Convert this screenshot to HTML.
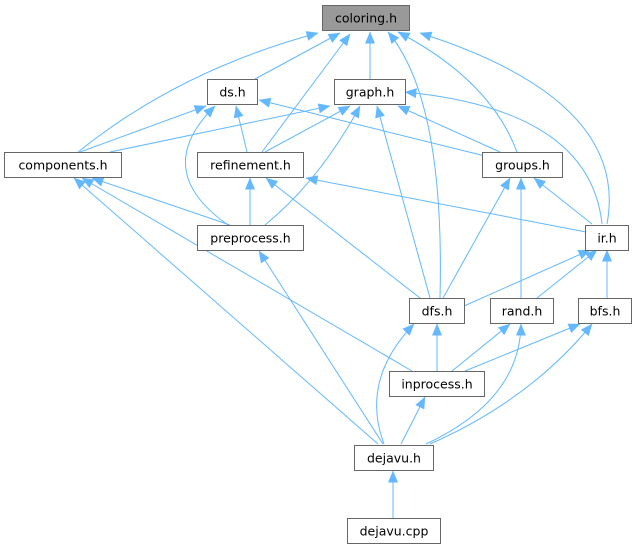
<!DOCTYPE html>
<html><head><meta charset="utf-8"><style>
html,body{margin:0;padding:0;background:#fff;width:633px;height:549px;overflow:hidden}
text{font-family:"DejaVu Sans","Liberation Sans",sans-serif;font-size:12.5px;fill:#000}
</style></head><body>
<svg width="633" height="549" viewBox="0 0 633 549" xmlns="http://www.w3.org/2000/svg">
<defs>
<marker id="a" markerWidth="12" markerHeight="10" refX="11.5" refY="5" orient="auto" markerUnits="userSpaceOnUse">
<path d="M0,0 L12,5 L0,10 z" fill="#63b8ff"/>
</marker>
</defs>
<g fill="none" stroke="#63b8ff" stroke-width="1" marker-end="url(#a)">
<path d="M78,152 Q180,70 318,33"/>
<path d="M255,79 L340,33"/>
<path d="M262,152 L350,34"/>
<path d="M370,79 L370,32"/>
<path d="M440,298 Q445,100 388,32"/>
<path d="M517,152 Q490,80 398,32"/>
<path d="M607,224 Q630,100 420,33"/>
<path d="M80,152 L206,106"/>
<path d="M228,225 Q150,170 215,106"/>
<path d="M247,152 L236,106"/>
<path d="M485,156 L259,100"/>
<path d="M110,152 L330,106"/>
<path d="M265,152 L350,106"/>
<path d="M265,225 Q320,180 360,106"/>
<path d="M430,298 L377,106"/>
<path d="M500,152 L398,106"/>
<path d="M602,224 Q590,110 405,92"/>
<path d="M230,225 L92,178"/>
<path d="M412,371 L82,178"/>
<path d="M378,444 L74,178"/>
<path d="M250,225 L250,178"/>
<path d="M420,298 L266,178"/>
<path d="M586,232 L306,178"/>
<path d="M443,298 L510,178"/>
<path d="M521,298 L521,178"/>
<path d="M592,224 L534,178"/>
<path d="M383,444 L259,251"/>
<path d="M464,306 L590,250"/>
<path d="M537,298 L597,250"/>
<path d="M607,298 L607,250"/>
<path d="M437,371 L437,324"/>
<path d="M384,444 Q360,380 414,324"/>
<path d="M452,371 L510,324"/>
<path d="M426,444 Q520,400 521,324"/>
<path d="M465,371 L580,324"/>
<path d="M430,444 Q530,400 592,324"/>
<path d="M401,444 L425,397"/>
<path d="M393,518 L393,471"/>
</g>
<g stroke="#666" stroke-width="1" fill="#fff">
<rect x="322.5" y="5.5" width="87" height="25" fill="#999"/>
<rect x="207.5" y="79.5" width="50" height="25"/>
<rect x="334.5" y="79.5" width="71" height="25"/>
<rect x="4.5" y="152.5" width="117" height="25"/>
<rect x="197.5" y="152.5" width="106" height="25"/>
<rect x="482.5" y="152.5" width="80" height="25"/>
<rect x="197.5" y="225.5" width="106" height="25"/>
<rect x="585.5" y="225.5" width="43" height="25"/>
<rect x="409.5" y="298.5" width="55" height="25"/>
<rect x="490.5" y="298.5" width="63" height="25"/>
<rect x="578.5" y="298.5" width="53" height="25"/>
<rect x="389.5" y="371.5" width="95" height="25"/>
<rect x="354.5" y="445.5" width="79" height="25"/>
<rect x="347.5" y="518.5" width="93" height="25"/>
</g>
<g text-anchor="middle">
<text x="366" y="22.5">coloring.h</text>
<text x="232.5" y="96.5">ds.h</text>
<text x="370" y="96.5">graph.h</text>
<text x="63" y="169.5">components.h</text>
<text x="250.5" y="169.5">refinement.h</text>
<text x="522.5" y="169.5">groups.h</text>
<text x="250.5" y="242.5">preprocess.h</text>
<text x="607" y="242.5">ir.h</text>
<text x="437" y="315.5">dfs.h</text>
<text x="522" y="315.5">rand.h</text>
<text x="605" y="315.5">bfs.h</text>
<text x="437" y="388.5">inprocess.h</text>
<text x="394" y="462.5">dejavu.h</text>
<text x="394" y="535.5">dejavu.cpp</text>
</g>
</svg>
</body></html>
